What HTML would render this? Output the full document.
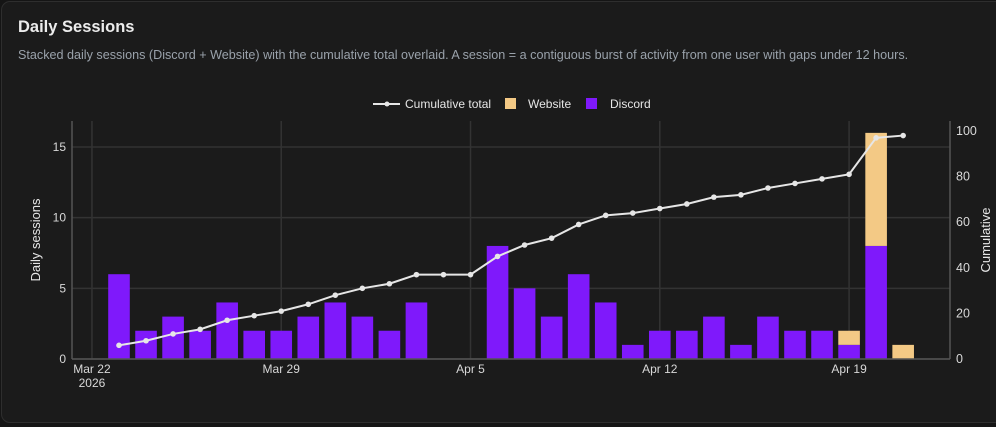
<!DOCTYPE html>
<html><head><meta charset="utf-8"><style>
body{margin:0;background:#151515;width:996px;height:427px;overflow:hidden;font-family:"Liberation Sans",sans-serif}
.card{position:absolute;left:1px;top:1px;width:1010px;height:420px;background:#1b1b1b;border:1px solid #2e2e2e;border-radius:9px}
h1{position:absolute;left:18px;top:18px;margin:0;font-size:16.5px;font-weight:bold;color:#ececec}
p{position:absolute;left:18px;top:48px;margin:0;font-size:12.6px;color:#9aa2ab;white-space:nowrap}
svg{position:absolute;left:0;top:0}
text{font-family:"Liberation Sans",sans-serif}
</style></head><body>
<div class="card"></div>
<h1>Daily Sessions</h1>
<p>Stacked daily sessions (Discord + Website) with the cumulative total overlaid. A session = a contiguous burst of activity from one user with gaps under 12 hours.</p>
<svg id="chart" width="996" height="427"></svg>
<script>
const startDate = "2026-03-23";
const discord = [6,2,3,2,4,2,2,3,4,3,2,4,0,0,8,5,3,6,4,1,2,2,3,1,3,2,2,1,8,0];
const website = [0,0,0,0,0,0,0,0,0,0,0,0,0,0,0,0,0,0,0,0,0,0,0,0,0,0,0,1,8,1];
const cumulative = [6,8,11,13,17,19,21,24,28,31,33,37,37,37,45,50,53,59,63,64,66,68,71,72,75,77,79,81,97,98];
const leftTicks = [0,5,10,15];
const rightTicks = [0,20,40,60,80,100];
const xTickLabels = ["Mar 22","Mar 29","Apr 5","Apr 12","Apr 19"];
const xTickOffsets = [-1,6,13,20,27];

const NS="http://www.w3.org/2000/svg";
const svg=document.getElementById('chart');
const L=72,R=950,T=121,B=359;
const dayPx=27.04, x0=119;
const xs=i=>x0+i*dayPx;
const yl=v=>B-v*14.133;
const yr=v=>B-v*2.28;
function mk(tag,attrs,parent){const e=document.createElementNS(NS,tag);for(const k in attrs)e.setAttribute(k,attrs[k]);(parent||svg).appendChild(e);return e;}

leftTicks.forEach(v=>{
  const g=mk('line',{x1:L,x2:R,y1:yl(v),y2:yl(v),stroke:'#333','stroke-width':1.5});
  
  
  const t=mk('text',{x:L-6,y:yl(v)+4,'text-anchor':'end','font-size':12,fill:'#d8d8d8'});
  t.textContent=v;
  
  
});
xTickOffsets.forEach((d,i)=>{
  const g=mk('line',{x1:xs(d),x2:xs(d),y1:T,y2:B,stroke:'#333','stroke-width':1.5});
  
  
  const t=mk('text',{x:xs(d),y:B+14,'text-anchor':'middle','font-size':12,fill:'#d8d8d8'});
  t.textContent=xTickLabels[i];
  
  
});
const yr2=mk('text',{x:xs(-1),y:B+28,'text-anchor':'middle','font-size':12,fill:'#d8d8d8'});
yr2.textContent='2026';


rightTicks.forEach(v=>{
  const t=mk('text',{x:R+6,y:yr(v)+4,'font-size':12.5,fill:'#d8d8d8'});
  t.textContent=v;
  
  
});
const bw=21.6;
discord.forEach((v,i)=>{
  const cx=xs(i);
  const b=mk('rect',{x:cx-bw/2,y:yl(v),width:bw,height:Math.max(yl(0)-yl(v),0.5),fill:'#7f19fb'});
  
  
  if(website[i]>0){
    const w=mk('rect',{x:cx-bw/2,y:yl(v+website[i]),width:bw,height:yl(v)-yl(v+website[i]),fill:'#f3c985'});
    
    
  }
});
const ax=mk('line',{x1:L,x2:R,y1:B,y2:B,stroke:'#555','stroke-width':1.5});


const al=mk('line',{x1:L,x2:L,y1:T,y2:B,stroke:'#555','stroke-width':1.5});


const ar=mk('line',{x1:R,x2:R,y1:T,y2:B,stroke:'#555','stroke-width':1.5});


const pts=cumulative.map((v,i)=>xs(i)+','+yr(v)).join(' ');
const pl=mk('polyline',{points:pts,fill:'none',stroke:'#e6e6e6','stroke-width':2});


cumulative.forEach((v,i)=>{
  const c=mk('circle',{cx:xs(i),cy:yr(v),r:2.8,fill:'#e6e6e6'});
  
  
});
const lt=mk('text',{x:40,y:240,'text-anchor':'middle','font-size':13,fill:'#e6e6e6',transform:'rotate(-90 40 240)'});
lt.textContent='Daily sessions';


const rt=mk('text',{x:990,y:240,'text-anchor':'middle','font-size':13,fill:'#e6e6e6',transform:'rotate(-90 990 240)'});
rt.textContent='Cumulative';


const lg=mk('g',{});


mk('line',{x1:373,x2:400,y1:104,y2:104,stroke:'#e6e6e6','stroke-width':2},lg);
mk('circle',{cx:387,cy:104,r:2.5,fill:'#e6e6e6'},lg);
const l1=mk('text',{x:405,y:108,'font-size':12,fill:'#e6e6e6'},lg);l1.textContent='Cumulative total';


mk('rect',{x:505,y:98,width:11,height:11,fill:'#f3c985'},lg);
const l2=mk('text',{x:528,y:108,'font-size':12,fill:'#e6e6e6'},lg);l2.textContent='Website';


mk('rect',{x:586,y:98,width:11,height:11,fill:'#7f19fb'},lg);
const l3=mk('text',{x:610,y:108,'font-size':12,fill:'#e6e6e6'},lg);l3.textContent='Discord';


</script>
</body></html>
